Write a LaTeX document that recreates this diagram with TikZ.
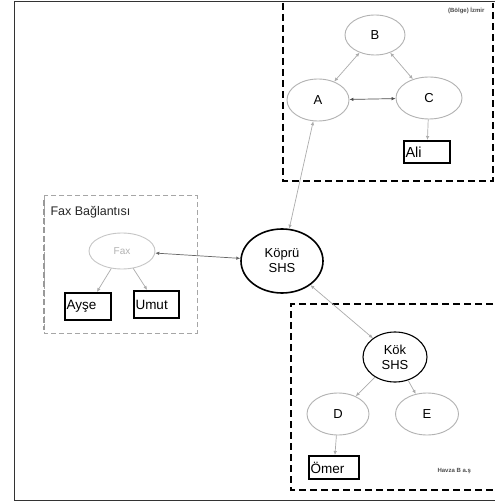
\documentclass[tikz,border=0pt]{standalone}
\usepackage{fontspec}
\setmainfont{Liberation Sans}
\usetikzlibrary{shapes.geometric,arrows.meta}
\begin{document}
\begin{tikzpicture}[x=1pt,y=-1pt,
  site/.style={draw=black,line width=1.3pt,dash pattern=on 7pt off 4pt},
  faxsite/.style={draw=gray!70,line width=1pt,dash pattern=on 5pt off 3pt},
  host/.style={ellipse,draw=gray!60,line width=0.9pt,inner sep=0pt,font=\fontsize{13}{13}\selectfont},
  shs/.style={ellipse,draw=black,line width=1.6pt,inner sep=0pt,align=center,font=\fontsize{13}{15}\selectfont},
  user/.style={rectangle,draw=black,line width=2pt,inner sep=1.5pt,font=\fontsize{13.5}{13}\selectfont},
  link/.style={draw=gray!65,line width=0.7pt},
  tip/.style={-{Latex[length=4pt,width=3.5pt]}},
  tips/.style={{Latex[length=4pt,width=3.5pt]}-{Latex[length=4pt,width=3.5pt]}},
  tag/.style={font=\fontsize{6}{6}\selectfont\bfseries,text=black!70}
]
\useasboundingbox (0,0) rectangle (494,502);
\fill[white] (0,0) rectangle (494,502);
% outer frame
\draw[black!80,line width=1pt] (14,2) rectangle (500,500);

% upper site
\draw[site] (283,3) -- (283,181) -- (493,181) -- (493,3);
\node[tag,anchor=east] (tagtop) at (488,11) {(Bölge) İzmir};
\node[host,minimum width=60pt,minimum height=40pt] (B) at (375,35) {B};
\node[host,minimum width=62pt,minimum height=42pt] (A) at (318,100) {A};
\node[host,minimum width=66pt,minimum height=42pt] (C) at (429,98) {C};
\node[user,font=\fontsize{14.5}{14}\selectfont,minimum height=22pt,anchor=north west] (Ali) at (403,140) {\makebox[43pt][l]{Ali}};

% fax site
\draw[faxsite] (44,196) rectangle (197,333);
\draw[gray!80,line width=2pt,dash pattern=on 6pt off 3pt] (44,200) -- (44,330);
\node[anchor=west,font=\fontsize{12.5}{12}\selectfont,text=black!85] (faxlabel) at (47,212) {Fax Bağlantısı};
\node[host,draw=gray!45,text=gray!60,minimum width=66pt,minimum height=36pt,font=\fontsize{10}{10}\selectfont] (Fax) at (122,251) {Fax};
\node[user,minimum height=27pt,anchor=north west] (Ayse) at (64,292) {\makebox[43pt][l]{Ayşe}};
\node[user,minimum height=27pt,anchor=north west] (Umut) at (133,290) {\makebox[42pt][l]{Umut}};

% bridge
\node[shs,minimum width=82pt,minimum height=64pt] (Kopru) at (282,261) {Köprü\\SHS};

% lower site
\draw[site] (493,304) -- (291,304) -- (291,490) -- (494,490);
\node[tag,anchor=west] (tagbot) at (434,471) {Havza B a.ş};
\node[shs,line width=1.1pt,minimum width=64pt,minimum height=50pt] (Kok) at (395,357) {Kök\\SHS};
\node[host,minimum width=62pt,minimum height=42pt] (D) at (338,414) {D};
\node[host,minimum width=63pt,minimum height=42pt] (E) at (427,414) {E};
\node[user,minimum height=23pt,anchor=north west] (Omer) at (308,455) {\makebox[47pt][l]{Ömer}};

% links
\draw[link,tips] (B) -- (A);
\draw[link,tips] (B) -- (C);
\draw[link,tips,draw=black!70] (A) -- (C);
\draw[link,tip] (C) -- (Ali);
\draw[link,tips] (A) -- (Kopru);
\draw[link,tips,draw=black!60] (Fax) -- (Kopru);
\draw[link,tip] (Fax) -- (Ayse);
\draw[link,tip] (Fax) -- (Umut);
\draw[link,tips] (Kopru) -- (Kok);
\draw[link,tip] (Kok) -- (D);
\draw[link,tip] (Kok) -- (E);
\draw[link,tip] (D) -- (Omer);
\end{tikzpicture}
\end{document}
